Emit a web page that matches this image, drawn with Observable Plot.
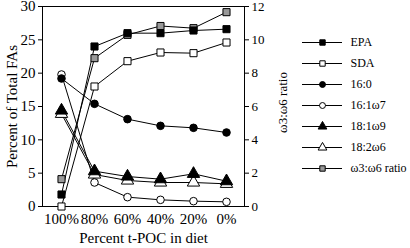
<!DOCTYPE html>
<html>
<head>
<meta charset="utf-8">
<script src="https://cdn.jsdelivr.net/npm/d3@7"></script>
<script src="https://cdn.jsdelivr.net/npm/@observablehq/plot@0.6"></script>
<style>
  html, body { margin: 0; padding: 0; background: #fff; }
  #wrap { position: relative; width: 410px; height: 248px; font-family: "Liberation Serif", serif; }
  #wrap svg { position: absolute; left: 0; top: 0; overflow: visible; }
</style>
</head>
<body>
<div id="wrap"></div>
<script>
const diet = ["100%", "80%", "60%", "40%", "20%", "0%"];
const EPA     = [1.8, 24.0, 26.0, 26.0, 26.4, 26.6];
const SDA     = [0.0, 18.0, 21.8, 23.1, 23.0, 24.6];
const p16_0   = [19.2, 15.4, 13.1, 12.1, 11.8, 11.1];
const p16_1w7 = [19.8, 3.6, 1.4, 1.0, 0.8, 0.7];
const p18_1w9 = [14.4, 5.3, 4.5, 4.1, 4.9, 3.8];
const p18_2w6 = [13.9, 4.8, 3.9, 3.6, 3.6, 3.4];
const ratio   = [1.64, 8.9, 10.3, 10.83, 10.7, 11.66];  // right axis (0–12)
const ratioTicks = [0, 2, 4, 6, 8, 10, 12];
const leftTicks = [0, 5, 10, 15, 20, 25, 30];

const k = 30 / 12; // ratio → left-axis units

const series = [
  {name: "EPA", values: EPA, symbol: "square", fill: "black", r: 4.0},
  {name: "SDA", values: SDA, symbol: "square", fill: "white", r: 4.0},
  {name: "16:0", values: p16_0, symbol: "circle", fill: "black", r: 3.8},
  {name: "16:1ω7", values: p16_1w7, symbol: "circle", fill: "white", r: 3.8},
  {name: "18:1ω9", values: p18_1w9, symbol: "triangle", fill: "black", r: 4.6},
  {name: "18:2ω6", values: p18_2w6, symbol: "triangle", fill: "white", r: 4.6},
  {name: "ω3:ω6 ratio", values: ratio.map(v => v * k), symbol: "square", fill: "#999", r: 4.0}
];

const rows = series.flatMap(s => s.values.map((v, i) => ({name: s.name, x: diet[i], y: v})));
const drawOrder = ["16:1ω7", "18:2ω6", "18:1ω9", "16:0", "SDA", "ω3:ω6 ratio", "EPA"];

const font = "Liberation Serif";

const lineMarks = drawOrder.map(n => Plot.line(rows.filter(d => d.name === n), {x: "x", y: "y", stroke: "black", strokeWidth: 1}));
const dotMarks = drawOrder.map(n => {
  const s = series.find(t => t.name === n);
  return Plot.dot(rows.filter(d => d.name === n), {x: "x", y: "y", symbol: () => s.symbol, r: s.r, fill: s.fill, stroke: "black", strokeWidth: 1});
});

const main = Plot.plot({
  width: 410, height: 248,
  marginLeft: 42, marginRight: 166, marginTop: 6, marginBottom: 42,
  style: {fontFamily: font, fontSize: "14px", color: "black", background: "transparent", overflow: "visible"},
  x: {type: "point", domain: diet, padding: 0.5},
  y: {domain: [0, 30]},
  symbol: {type: "identity"},
  marks: [
    Plot.ruleY([30], {stroke: "black"}),
    Plot.ruleY([0], {stroke: "black"}),
    Plot.axisY(leftTicks, {anchor: "left", tickSize: 4, tickPadding: 3, fontSize: 15, fontFamily: font,
      label: "Percent of Total FAs", labelAnchor: "center", labelArrow: "none", labelOffset: 36}),
    Plot.axisY(ratioTicks.map(v => v * k), {anchor: "right", tickSize: 4, tickPadding: 3, fontSize: 13, fontFamily: font,
      tickFormat: d => Math.round(d / k), label: null}),
    Plot.axisX({anchor: "bottom", tickSize: 0, tickPadding: 7, fontSize: 15, fontFamily: font,
      label: "Percent t-POC in diet", labelAnchor: "center", labelArrow: "none", labelOffset: 36}),
    Plot.frame({anchor: "left"}),
    Plot.frame({anchor: "right"}),
    ...lineMarks,
    ...dotMarks
  ]
});
document.getElementById("wrap").appendChild(main);

const names = series.map(s => s.name);
const legend = Plot.plot({
  width: 410, height: 248,
  margin: 0,
  style: {fontFamily: font, fontSize: "12px", color: "black", background: "transparent"},
  x: {domain: [0, 1], range: [302, 342], axis: null},
  y: {type: "point", domain: names, range: [29, 180], axis: null},
  symbol: {type: "identity"},
  marks: [
    // right-axis title
    Plot.text(["ω3:ω6 ratio"], {x: () => 0, dx: -20, y: () => names[2], dy: 18, rotate: -90, fontSize: 13, fontFamily: font, text: d => d}),
    Plot.ruleY(series, {x1: 0, x2: 1, y: "name", stroke: "black", strokeWidth: 1}),
    Plot.dot(series, {x: () => 0.5, y: "name", symbol: "symbol", r: d => d.r * 0.85, fill: "fill", stroke: "black", strokeWidth: 1}),
    Plot.text(series, {x: () => 1, y: "name", dx: 8, text: "name", textAnchor: "start", fontSize: 12, fontFamily: font})
  ]
});
document.getElementById("wrap").appendChild(legend);

// drop Plot's class-based stylesheet and force the serif face on every text node
d3.selectAll("#wrap svg").each(function() {
  d3.select(this).selectAll("style").remove();
  this.removeAttribute("class");
  this.setAttribute("font-family", font);
});
d3.selectAll("#wrap svg g, #wrap svg text, #wrap svg tspan").each(function() {
  this.setAttribute("font-family", font);
  this.style.setProperty("font-family", font, "important");
});
</script>
</body>
</html>
